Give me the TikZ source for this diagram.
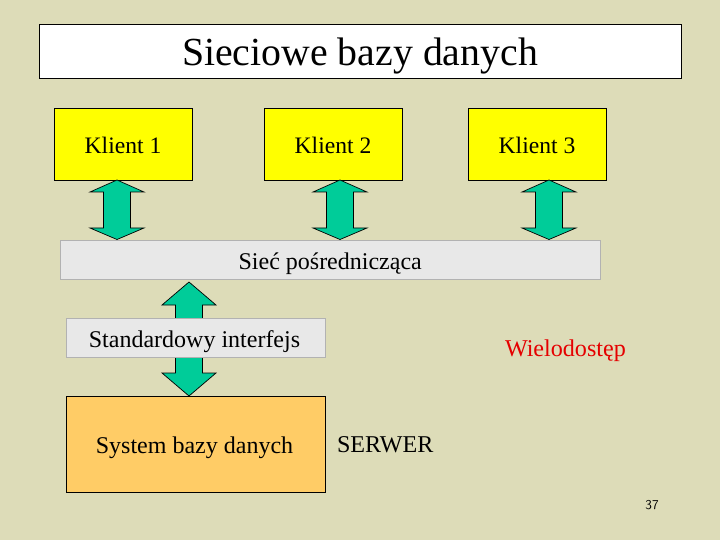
\documentclass[tikz,border=0pt]{standalone}
\usepackage{fontspec}
\setmainfont{Liberation Serif}
\definecolor{bgc}{HTML}{DDDCB8}
\definecolor{klient}{HTML}{FFFF00}
\definecolor{grayb}{HTML}{E8E8E8}
\definecolor{dbc}{HTML}{FFCC66}
\definecolor{arrowc}{HTML}{00CC99}
\definecolor{edgeg}{HTML}{B2B2B2}
\tikzset{
  base/.style={inner sep=0pt,outer sep=0pt,rectangle,text depth=0pt,font=\fontsize{24}{26}\selectfont},
  title/.style={base,draw=black,line width=0.7pt,fill=white,text height=30pt,font=\fontsize{39.8}{42}\selectfont},
  client/.style={base,draw=black,line width=0.9pt,fill=klient,text height=20pt,font=\fontsize{23.6}{26}\selectfont},
  grayl/.style={base,draw=edgeg,line width=0.9pt,fill=grayb,text height=19pt},
  dbbox/.style={base,draw=black,line width=0.9pt,fill=dbc,text height=19pt},
  free/.style={inner sep=0pt,outer sep=0pt,font=\fontsize{24.1}{26}\selectfont},
  arrowshape/.style={draw=black,line width=0.7pt,fill=arrowc,line join=miter}
}
\begin{document}
\begin{tikzpicture}[x=1pt,y=-1pt]
\useasboundingbox (0,0) rectangle (720,540);
\fill[bgc] (0,0) rectangle (720,540);
\node[title,minimum width=642pt,minimum height=54pt] (title) at (360,51) {Sieciowe bazy danych};
\node[client,minimum width=138pt,minimum height=72pt] (k1) at (123,144) {Klient 1};
\node[client,minimum width=138pt,minimum height=72pt] (k2) at (333,144) {Klient 2};
\node[client,minimum width=138pt,minimum height=72pt] (k3) at (537,144) {Klient 3};
\foreach \c in {117,340,549}{
  \draw[arrowshape] (\c,180) -- (\c+27,192) -- (\c+13.5,192) -- (\c+13.5,228) -- (\c+27,228) -- (\c,239.5) -- (\c-27,228) -- (\c-13.5,228) -- (\c-13.5,192) -- (\c-27,192) -- cycle;
}
\node[grayl,minimum width=540.5pt,minimum height=39pt] (net) at (330.2,259.5) {Sieć pośrednicząca};
\draw[arrowshape] (189,282) -- (216,305) -- (202.5,305) -- (202.5,373) -- (216,373) -- (189,396) -- (162,373) -- (175.5,373) -- (175.5,305) -- (162,305) -- cycle;
\node[grayl,minimum width=259pt,minimum height=39pt] (iface) at (195.5,337.5) {\hspace{-2pt}Standardowy interfejs};
\node[dbbox,minimum width=259pt,minimum height=96pt] (db) at (195.5,444) {\hspace{-2pt}System bazy danych};
\node[free,anchor=base west,text=red!90!black] (multi) at (505,356) {Wielodostęp};
\node[free,anchor=base west] (srv) at (337,452) {SERWER};
\node[inner sep=0pt,font=\sffamily\fontsize{13.5}{14}\selectfont,anchor=base] (num) at (652,509) {37};
\end{tikzpicture}
\end{document}
